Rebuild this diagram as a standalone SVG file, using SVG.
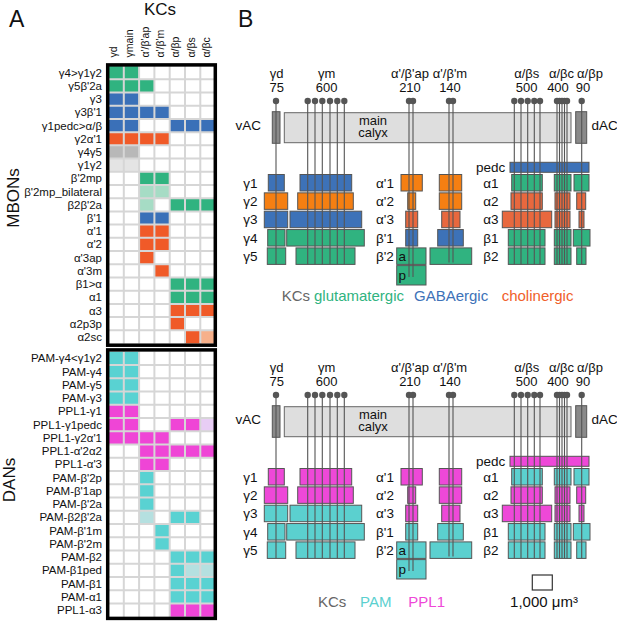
<svg xmlns="http://www.w3.org/2000/svg" xmlns:xlink="http://www.w3.org/1999/xlink" width="617" height="621" viewBox="0 0 617 621">
<style>
text{font-family:"Liberation Sans",Arial,sans-serif;fill:#111}
.lab{font-size:11.5px;text-anchor:end}
.hdr{font-size:10.5px}
.big{font-size:23px}
.side{font-size:17px;text-anchor:middle}
.bt{font-size:13px;text-anchor:middle}
.ll{font-size:13.5px}
.leg{font-size:15px}
.cG{fill:#30b380}.cB{fill:#3a70b8}.cO{fill:#f05a28}.cLO{fill:#f7b08a}.cGy{fill:#b8b8b8}.cLGy{fill:#e4e4e4}.cLG{fill:#a6dcc5}
.cC{fill:#59d2d2}.cLC{fill:#b5e0e0}.cM{fill:#ef45d6}.cLM{fill:#e8cdf5}
.grid{fill:none;stroke:#d6d6d6;stroke-width:2}
.frame{fill:none;stroke:#000;stroke-width:3.5}
.box{stroke:#555;stroke-width:1}
.bl{fill:#3d72b8}.or{fill:#f57f12}.ro{fill:#e8683e}.gr{fill:#30b380}.cy{fill:#5bd0cf}.mg{fill:#ee48d8}
.kcl{fill:none;stroke:#555;stroke-width:1.1}
.dot{fill:#555}
</style>
<rect width="617" height="621" fill="#fff"/>

<!-- Panel A -->
<g id="panelA">
<text class="big" x="9" y="26.7">A</text>
<text x="160" y="15" style="font-size:17px;text-anchor:middle">KCs</text>
<g id="col-headers" class="hdr">
<text transform="translate(117.2,57.5) rotate(-90)">γd</text>
<text transform="translate(133.4,57.5) rotate(-90)">γmain</text>
<text transform="translate(148.7,57.5) rotate(-90)">α'/β'ap</text>
<text transform="translate(164,57.5) rotate(-90)">α'/β'm</text>
<text transform="translate(179.3,57.5) rotate(-90)">α/βp</text>
<text transform="translate(194.6,57.5) rotate(-90)">α/βs</text>
<text transform="translate(209.9,57.5) rotate(-90)">α/βc</text>
</g>
<text class="side" transform="translate(18.5,198) rotate(-90)">MBONs</text>
<text class="side" transform="translate(15,480) rotate(-90)">DANs</text>

<g id="mbon-grid">
<rect x="108.5" y="66.1" width="107" height="277.4" fill="#fff"/>
<g id="mbon-cells">
<!-- row0 γ4>γ1γ2 -->
<rect class="cG" x="108.5" y="66.1" width="15.3" height="13.21"/><rect class="cG" x="123.8" y="66.1" width="15.3" height="13.21"/>
<!-- row1 -->
<rect class="cG" x="108.5" y="79.31" width="15.3" height="13.21"/><rect class="cG" x="123.8" y="79.31" width="15.3" height="13.21"/><rect class="cG" x="139.1" y="79.31" width="15.3" height="13.21"/>
<!-- row2 -->
<rect class="cB" x="108.5" y="92.52" width="15.3" height="13.21"/><rect class="cB" x="123.8" y="92.52" width="15.3" height="13.21"/>
<!-- row3 -->
<rect class="cB" x="108.5" y="105.73" width="15.3" height="13.21"/><rect class="cB" x="123.8" y="105.73" width="15.3" height="13.21"/><rect class="cB" x="139.1" y="105.73" width="15.3" height="13.21"/><rect class="cB" x="154.4" y="105.73" width="15.3" height="13.21"/>
<!-- row4 -->
<rect class="cB" x="108.5" y="118.94" width="15.3" height="13.21"/><rect class="cB" x="123.8" y="118.94" width="15.3" height="13.21"/><rect class="cB" x="169.7" y="118.94" width="15.3" height="13.21"/><rect class="cB" x="185" y="118.94" width="15.3" height="13.21"/><rect class="cB" x="200.3" y="118.94" width="15.3" height="13.21"/>
<!-- row5 -->
<rect class="cO" x="108.5" y="132.15" width="15.3" height="13.21"/><rect class="cO" x="123.8" y="132.15" width="15.3" height="13.21"/><rect class="cO" x="139.1" y="132.15" width="15.3" height="13.21"/><rect class="cO" x="154.4" y="132.15" width="15.3" height="13.21"/>
<!-- row6 -->
<rect class="cGy" x="108.5" y="145.36" width="15.3" height="13.21"/><rect class="cGy" x="123.8" y="145.36" width="15.3" height="13.21"/>
<!-- row7 -->
<rect class="cLGy" x="108.5" y="158.57" width="15.3" height="13.21"/><rect class="cLGy" x="123.8" y="158.57" width="15.3" height="13.21"/>
<!-- row8 -->
<rect class="cG" x="139.1" y="171.78" width="15.3" height="13.21"/><rect class="cG" x="154.4" y="171.78" width="15.3" height="13.21"/>
<!-- row9 -->
<rect class="cLG" x="139.1" y="184.99" width="15.3" height="13.21"/><rect class="cLG" x="154.4" y="184.99" width="15.3" height="13.21"/>
<!-- row10 -->
<rect class="cLG" x="139.1" y="198.2" width="15.3" height="13.21"/><rect class="cG" x="169.7" y="198.2" width="15.3" height="13.21"/><rect class="cG" x="185" y="198.2" width="15.3" height="13.21"/><rect class="cG" x="200.3" y="198.2" width="15.3" height="13.21"/>
<!-- row11 -->
<rect class="cB" x="139.1" y="211.41" width="15.3" height="13.21"/><rect class="cB" x="154.4" y="211.41" width="15.3" height="13.21"/>
<!-- row12 -->
<rect class="cO" x="139.1" y="224.62" width="15.3" height="13.21"/><rect class="cO" x="154.4" y="224.62" width="15.3" height="13.21"/>
<!-- row13 -->
<rect class="cO" x="139.1" y="237.83" width="15.3" height="13.21"/><rect class="cO" x="154.4" y="237.83" width="15.3" height="13.21"/>
<!-- row14 -->
<rect class="cO" x="139.1" y="251.04" width="15.3" height="13.21"/>
<!-- row15 -->
<rect class="cO" x="154.4" y="264.25" width="15.3" height="13.21"/>
<!-- row16 -->
<rect class="cG" x="169.7" y="277.46" width="15.3" height="13.21"/><rect class="cG" x="185" y="277.46" width="15.3" height="13.21"/><rect class="cG" x="200.3" y="277.46" width="15.3" height="13.21"/>
<!-- row17 -->
<rect class="cG" x="169.7" y="290.67" width="15.3" height="13.21"/><rect class="cG" x="185" y="290.67" width="15.3" height="13.21"/><rect class="cG" x="200.3" y="290.67" width="15.3" height="13.21"/>
<!-- row18 -->
<rect class="cO" x="169.7" y="303.88" width="15.3" height="13.21"/><rect class="cO" x="185" y="303.88" width="15.3" height="13.21"/><rect class="cO" x="200.3" y="303.88" width="15.3" height="13.21"/>
<!-- row19 -->
<rect class="cO" x="169.7" y="317.09" width="15.3" height="13.21"/>
<!-- row20 -->
<rect class="cO" x="185" y="330.3" width="15.3" height="13.21"/><rect class="cLO" x="200.3" y="330.3" width="15.3" height="13.21"/>
</g>
<path class="grid" d="M123.8 66V343.5M139.1 66V343.5M154.4 66V343.5M169.7 66V343.5M185 66V343.5M200.3 66V343.5M108 79.31H216M108 92.52H216M108 105.73H216M108 118.94H216M108 132.15H216M108 145.36H216M108 158.57H216M108 171.78H216M108 184.99H216M108 198.2H216M108 211.41H216M108 224.62H216M108 237.83H216M108 251.04H216M108 264.25H216M108 277.46H216M108 290.67H216M108 303.88H216M108 317.09H216M108 330.3H216"/>
<rect class="frame" x="107.7" y="64.9" width="107.6" height="280.3"/>
</g>

<g id="mbon-labels" class="lab">
<text x="102" y="76.7">γ4&gt;γ1γ2</text>
<text x="102" y="89.9">γ5β'2a</text>
<text x="102" y="103.1">γ3</text>
<text x="102" y="116.3">γ3β'1</text>
<text x="102" y="129.5">γ1pedc&gt;α/β</text>
<text x="102" y="142.8">γ2α'1</text>
<text x="102" y="156">γ4γ5</text>
<text x="102" y="169.2">γ1γ2</text>
<text x="102" y="182.4">β'2mp</text>
<text x="102" y="195.6">β'2mp_bilateral</text>
<text x="102" y="208.8">β2β'2a</text>
<text x="102" y="222">β'1</text>
<text x="102" y="235.2">α'1</text>
<text x="102" y="248.4">α'2</text>
<text x="102" y="261.6">α'3ap</text>
<text x="102" y="274.9">α'3m</text>
<text x="102" y="288.1">β1&gt;α</text>
<text x="102" y="301.3">α1</text>
<text x="102" y="314.5">α3</text>
<text x="102" y="327.7">α2p3p</text>
<text x="102" y="340.9">α2sc</text>
</g>

<g id="dan-grid">
<rect x="108.5" y="351.7" width="107" height="265" fill="#fff"/>
<g id="dan-cells">
<rect class="cC" x="108.5" y="351.7" width="15.3" height="13.25"/><rect class="cC" x="123.8" y="351.7" width="15.3" height="13.25"/>
<rect class="cC" x="108.5" y="364.95" width="15.3" height="13.25"/><rect class="cC" x="123.8" y="364.95" width="15.3" height="13.25"/>
<rect class="cC" x="108.5" y="378.2" width="15.3" height="13.25"/><rect class="cC" x="123.8" y="378.2" width="15.3" height="13.25"/>
<rect class="cC" x="108.5" y="391.45" width="15.3" height="13.25"/><rect class="cC" x="123.8" y="391.45" width="15.3" height="13.25"/>
<rect class="cM" x="108.5" y="404.7" width="15.3" height="13.25"/><rect class="cM" x="123.8" y="404.7" width="15.3" height="13.25"/>
<rect class="cM" x="108.5" y="417.95" width="15.3" height="13.25"/><rect class="cM" x="123.8" y="417.95" width="15.3" height="13.25"/><rect class="cM" x="169.7" y="417.95" width="15.3" height="13.25"/><rect class="cM" x="185" y="417.95" width="15.3" height="13.25"/><rect class="cLM" x="200.3" y="417.95" width="15.3" height="13.25"/>
<rect class="cM" x="108.5" y="431.2" width="15.3" height="13.25"/><rect class="cM" x="123.8" y="431.2" width="15.3" height="13.25"/><rect class="cM" x="139.1" y="431.2" width="15.3" height="13.25"/><rect class="cM" x="154.4" y="431.2" width="15.3" height="13.25"/>
<rect class="cM" x="139.1" y="444.45" width="15.3" height="13.25"/><rect class="cM" x="154.4" y="444.45" width="15.3" height="13.25"/><rect class="cM" x="169.7" y="444.45" width="15.3" height="13.25"/><rect class="cM" x="185" y="444.45" width="15.3" height="13.25"/><rect class="cM" x="200.3" y="444.45" width="15.3" height="13.25"/>
<rect class="cM" x="139.1" y="457.7" width="15.3" height="13.25"/><rect class="cM" x="154.4" y="457.7" width="15.3" height="13.25"/>
<rect class="cC" x="139.1" y="470.95" width="15.3" height="13.25"/>
<rect class="cC" x="139.1" y="484.2" width="15.3" height="13.25"/>
<rect class="cC" x="139.1" y="497.45" width="15.3" height="13.25"/>
<rect class="cLC" x="139.1" y="510.7" width="15.3" height="13.25"/><rect class="cC" x="169.7" y="510.7" width="15.3" height="13.25"/><rect class="cC" x="185" y="510.7" width="15.3" height="13.25"/>
<rect class="cC" x="154.4" y="523.95" width="15.3" height="13.25"/>
<rect class="cC" x="154.4" y="537.2" width="15.3" height="13.25"/>
<rect class="cC" x="169.7" y="550.45" width="15.3" height="13.25"/><rect class="cC" x="185" y="550.45" width="15.3" height="13.25"/><rect class="cC" x="200.3" y="550.45" width="15.3" height="13.25"/>
<rect class="cC" x="169.7" y="563.7" width="15.3" height="13.25"/><rect class="cLC" x="185" y="563.7" width="15.3" height="13.25"/><rect class="cLC" x="200.3" y="563.7" width="15.3" height="13.25"/>
<rect class="cC" x="169.7" y="576.95" width="15.3" height="13.25"/><rect class="cC" x="185" y="576.95" width="15.3" height="13.25"/><rect class="cC" x="200.3" y="576.95" width="15.3" height="13.25"/>
<rect class="cC" x="169.7" y="590.2" width="15.3" height="13.25"/><rect class="cC" x="185" y="590.2" width="15.3" height="13.25"/><rect class="cC" x="200.3" y="590.2" width="15.3" height="13.25"/>
<rect class="cM" x="169.7" y="603.45" width="15.3" height="13.25"/><rect class="cM" x="185" y="603.45" width="15.3" height="13.25"/><rect class="cM" x="200.3" y="603.45" width="15.3" height="13.25"/>
</g>
<path class="grid" d="M123.8 351.5V617M139.1 351.5V617M154.4 351.5V617M169.7 351.5V617M185 351.5V617M200.3 351.5V617M108 364.95H216M108 378.2H216M108 391.45H216M108 404.7H216M108 417.95H216M108 431.2H216M108 444.45H216M108 457.7H216M108 470.95H216M108 484.2H216M108 497.45H216M108 510.7H216M108 523.95H216M108 537.2H216M108 550.45H216M108 563.7H216M108 576.95H216M108 590.2H216M108 603.45H216"/>
<rect class="frame" x="107.7" y="349.9" width="107.6" height="268.5"/>
</g>

<g id="dan-labels" class="lab">
<text x="102" y="362.3">PAM-γ4&lt;γ1γ2</text>
<text x="102" y="375.55">PAM-γ4</text>
<text x="102" y="388.8">PAM-γ5</text>
<text x="102" y="402.05">PAM-γ3</text>
<text x="102" y="415.3">PPL1-γ1</text>
<text x="102" y="428.55">PPL1-γ1pedc</text>
<text x="102" y="441.8">PPL1-γ2α'1</text>
<text x="102" y="455.05">PPL1-α'2α2</text>
<text x="102" y="468.3">PPL1-α'3</text>
<text x="102" y="481.55">PAM-β'2p</text>
<text x="102" y="494.8">PAM-β'1ap</text>
<text x="102" y="508.05">PAM-β'2a</text>
<text x="102" y="521.3">PAM-β2β'2a</text>
<text x="102" y="534.55">PAM-β'1m</text>
<text x="102" y="547.8">PAM-β'2m</text>
<text x="102" y="561.05">PAM-β2</text>
<text x="102" y="574.3">PAM-β1ped</text>
<text x="102" y="587.55">PAM-β1</text>
<text x="102" y="600.8">PAM-α1</text>
<text x="102" y="614.05">PPL1-α3</text>
</g>
</g>

<!-- Panel B -->
<text class="big" x="238" y="26.5">B</text>

<defs>
<g id="skeleton">
<g id="kc-labels" class="bt">
<text x="276.7" y="77.5">γd</text><text x="276.7" y="91.7">75</text>
<text x="326.7" y="77.5">γm</text><text x="326.7" y="91.7">600</text>
<text x="410" y="77.5">α'/β'ap</text><text x="410" y="91.7">210</text>
<text x="450" y="77.5">α'/β'm</text><text x="450" y="91.7">140</text>
<text x="526.7" y="77.5">α/βs</text><text x="526.7" y="91.7">500</text>
<text x="561.5" y="77.5">α/βc</text><text x="558" y="91.7">400</text>
<text x="590" y="77.5">α/βp</text><text x="583" y="91.7">90</text>
</g>
<g id="calyx">
<rect x="284.3" y="112.7" width="286.7" height="30" fill="#dedede" stroke="#666" stroke-width="1"/>
<text class="bt" x="373" y="125">main</text>
<text class="bt" x="373" y="137">calyx</text>
</g>
<g id="vAC"><rect x="272.3" y="111.7" width="7.7" height="31.6" fill="#8a8a8a" stroke="#555" stroke-width="1"/><text class="ll" x="261" y="130" style="text-anchor:end">vAC</text></g>
<g id="dAC"><rect x="575.7" y="111.7" width="11" height="31.6" fill="#8a8a8a" stroke="#555" stroke-width="1"/><text class="ll" x="591.5" y="130">dAC</text></g>
<g id="lobe-labels" class="ll">
<text x="243.3" y="187.5">γ1</text><text x="243.3" y="205.8">γ2</text><text x="243.3" y="224.2">γ3</text><text x="243.3" y="242.5">γ4</text><text x="243.3" y="260.9">γ5</text>
<text x="376" y="187.5">α'1</text><text x="376" y="205.8">α'2</text><text x="376" y="224.2">α'3</text><text x="376" y="242.5">β'1</text><text x="376" y="260.9">β'2</text>
<text x="476" y="171.5">pedc</text>
<text x="483.3" y="187.5">α1</text><text x="483.3" y="205.8">α2</text><text x="483.3" y="224.2">α3</text><text x="483.3" y="242.5">β1</text><text x="483.3" y="260.9">β2</text>
</g>
</g>
<g id="kc-lines">
<path class="kcl" d="M276 101V264.3M307.7 101V264.3M315 101V264.3M322.3 101V264.3M330 101V264.3M337.3 101V264.3M344.3 101V264.3M409 101V277M413 101V277M449 101V262.5M453 101V262.5M514.3 101V264.3M521 101V264.3M527.7 101V264.3M534.3 101V264.3M540 101V264.3M557 101V264.3M559.5 101V264.3M562 101V264.3M564.5 101V264.3M567 101V264.3M581.7 101V264.3"/>
<g class="dot">
<circle cx="276" cy="101" r="3.2"/>
<circle cx="307.7" cy="101" r="3.2"/><circle cx="315" cy="101" r="3.2"/><circle cx="322.3" cy="101" r="3.2"/><circle cx="330" cy="101" r="3.2"/><circle cx="337.3" cy="101" r="3.2"/><circle cx="344.3" cy="101" r="3.2"/>
<circle cx="409" cy="101" r="3.2"/><circle cx="413" cy="101" r="3.2"/>
<circle cx="449" cy="101" r="3.2"/><circle cx="453" cy="101" r="3.2"/>
<circle cx="514.3" cy="101" r="3.2"/><circle cx="521" cy="101" r="3.2"/><circle cx="527.7" cy="101" r="3.2"/><circle cx="534.3" cy="101" r="3.2"/><circle cx="540" cy="101" r="3.2"/>
<circle cx="557" cy="101" r="3.2"/><circle cx="559.5" cy="101" r="3.2"/><circle cx="562" cy="101" r="3.2"/><circle cx="564.5" cy="101" r="3.2"/><circle cx="567" cy="101" r="3.2"/>
<circle cx="581.7" cy="101" r="3.2"/>
</g>
</g>
</defs>

<!-- Top: MBON neurotransmitters -->
<g id="panelB-top">
<use href="#skeleton"/>
<g id="lobes-mbon" class="box">
<g id="m-g1"><rect class="bl" x="268.3" y="174.5" width="16" height="16.5"/><rect class="bl" x="300" y="174.5" width="51.7" height="16.5"/></g>
<g id="m-g2"><rect class="or" x="264.3" y="192.85" width="23.4" height="16.5"/><rect class="or" x="297.7" y="192.85" width="55.6" height="16.5"/></g>
<g id="m-g3"><rect class="bl" x="264.3" y="211.2" width="23.4" height="16.5"/><rect class="bl" x="290" y="211.2" width="71.7" height="16.5"/></g>
<g id="m-g4"><rect class="gr" x="267.7" y="229.55" width="17.3" height="16.5"/><rect class="gr" x="286.7" y="229.55" width="77.6" height="16.5"/></g>
<g id="m-g5"><rect class="gr" x="267.3" y="247.9" width="18.4" height="16.5"/><rect class="gr" x="296" y="247.9" width="59" height="16.5"/></g>
<g id="m-ap1"><rect class="or" x="401" y="174.5" width="21.3" height="16.5"/><rect class="or" x="439.3" y="174.5" width="22.4" height="16.5"/></g>
<g id="m-ap2"><rect class="or" x="407.7" y="192.85" width="8" height="16.5"/><rect class="or" x="439.3" y="192.85" width="22.4" height="16.5"/></g>
<g id="m-ap3"><rect class="ro" x="405.7" y="211.2" width="12" height="16.5"/><rect class="ro" x="441.7" y="211.2" width="18.3" height="16.5"/></g>
<g id="m-bp1"><rect class="bl" x="405.7" y="229.55" width="12" height="16.5"/><rect class="bl" x="437.7" y="229.55" width="25.6" height="16.5"/></g>
<g id="m-bp2"><rect class="gr" x="396.7" y="247.9" width="29.3" height="16.5"/><rect class="gr" x="430" y="247.9" width="41.7" height="16.5"/><rect class="gr" x="396.7" y="265.6" width="29.3" height="19.4"/></g>
<g id="m-pedc"><rect class="bl" x="510" y="162.3" width="79" height="10"/></g>
<g id="m-a1"><rect class="gr" x="511.7" y="174.5" width="30.6" height="16.5"/><rect class="gr" x="554.3" y="174.5" width="16.7" height="16.5"/><rect class="gr" x="574" y="174.5" width="15" height="16.5"/></g>
<g id="m-a2"><rect class="ro" x="511" y="192.85" width="31.3" height="16.5"/><rect class="ro" x="555" y="192.85" width="15" height="16.5"/><rect class="ro" x="576.7" y="192.85" width="9" height="16.5"/></g>
<g id="m-a3"><rect class="ro" x="502.3" y="211.2" width="49.4" height="16.5"/><rect class="ro" x="555" y="211.2" width="15" height="16.5"/><rect class="ro" x="579" y="211.2" width="5" height="16.5"/></g>
<g id="m-b1"><rect class="gr" x="508.3" y="229.55" width="36.7" height="16.5"/><rect class="gr" x="554.3" y="229.55" width="16.7" height="16.5"/><rect class="gr" x="573.3" y="229.55" width="16.7" height="16.5"/></g>
<g id="m-b2"><rect class="gr" x="508.3" y="247.9" width="36.7" height="16.5"/><rect class="gr" x="554.3" y="247.9" width="16.7" height="16.5"/><rect class="gr" x="576.7" y="247.9" width="9.3" height="16.5"/></g>
</g>
<text class="ll" x="398.5" y="260.9">a</text><text class="ll" x="398.5" y="280">p</text>
<use href="#kc-lines"/>
<g id="legend-top" class="leg">
<text x="281.7" y="301" style="fill:#666">KCs</text>
<text x="314" y="301" style="fill:#30b380">glutamatergic</text>
<text x="414" y="301" style="fill:#3d72b8">GABAergic</text>
<text x="501.7" y="301" style="fill:#f0602a">cholinergic</text>
</g>
</g>

<!-- Bottom: DAN clusters -->
<g id="panelB-bottom">
<use href="#skeleton" y="294"/>
<g id="lobes-dan" class="box" transform="translate(0,294)">
<g id="d-g1"><rect class="mg" x="268.3" y="174.5" width="16" height="16.5"/><rect class="mg" x="300" y="174.5" width="51.7" height="16.5"/></g>
<g id="d-g2"><rect class="mg" x="264.3" y="192.85" width="23.4" height="16.5"/><rect class="mg" x="297.7" y="192.85" width="55.6" height="16.5"/></g>
<g id="d-g3"><rect class="cy" x="264.3" y="211.2" width="23.4" height="16.5"/><rect class="cy" x="290" y="211.2" width="71.7" height="16.5"/></g>
<g id="d-g4"><rect class="cy" x="267.7" y="229.55" width="17.3" height="16.5"/><rect class="cy" x="286.7" y="229.55" width="77.6" height="16.5"/></g>
<g id="d-g5"><rect class="cy" x="267.3" y="247.9" width="18.4" height="16.5"/><rect class="cy" x="296" y="247.9" width="59" height="16.5"/></g>
<g id="d-ap1"><rect class="mg" x="401" y="174.5" width="21.3" height="16.5"/><rect class="mg" x="439.3" y="174.5" width="22.4" height="16.5"/></g>
<g id="d-ap2"><rect class="mg" x="407.7" y="192.85" width="8" height="16.5"/><rect class="mg" x="439.3" y="192.85" width="22.4" height="16.5"/></g>
<g id="d-ap3"><rect class="mg" x="405.7" y="211.2" width="12" height="16.5"/><rect class="mg" x="441.7" y="211.2" width="18.3" height="16.5"/></g>
<g id="d-bp1"><rect class="cy" x="405.7" y="229.55" width="12" height="16.5"/><rect class="cy" x="437.7" y="229.55" width="25.6" height="16.5"/></g>
<g id="d-bp2"><rect class="cy" x="396.7" y="247.9" width="29.3" height="16.5"/><rect class="cy" x="430" y="247.9" width="41.7" height="16.5"/><rect class="cy" x="396.7" y="265.6" width="29.3" height="19.4"/></g>
<g id="d-pedc"><rect class="mg" x="510" y="162.3" width="79" height="10"/></g>
<g id="d-a1"><rect class="cy" x="511.7" y="174.5" width="30.6" height="16.5"/><rect class="cy" x="554.3" y="174.5" width="16.7" height="16.5"/><rect class="cy" x="574" y="174.5" width="15" height="16.5"/></g>
<g id="d-a2"><rect class="mg" x="511" y="192.85" width="31.3" height="16.5"/><rect class="mg" x="555" y="192.85" width="15" height="16.5"/><rect class="mg" x="576.7" y="192.85" width="9" height="16.5"/></g>
<g id="d-a3"><rect class="mg" x="502.3" y="211.2" width="49.4" height="16.5"/><rect class="mg" x="555" y="211.2" width="15" height="16.5"/><rect class="mg" x="579" y="211.2" width="5" height="16.5"/></g>
<g id="d-b1"><rect class="cy" x="508.3" y="229.55" width="36.7" height="16.5"/><rect class="cy" x="554.3" y="229.55" width="16.7" height="16.5"/><rect class="cy" x="573.3" y="229.55" width="16.7" height="16.5"/></g>
<g id="d-b2"><rect class="cy" x="508.3" y="247.9" width="36.7" height="16.5"/><rect class="cy" x="554.3" y="247.9" width="16.7" height="16.5"/><rect class="cy" x="576.7" y="247.9" width="9.3" height="16.5"/></g>
</g>
<text class="ll" x="398.5" y="554.9">a</text><text class="ll" x="398.5" y="574">p</text>
<use href="#kc-lines" y="294"/>
<g id="legend-bottom" class="leg">
<text x="318" y="607" style="fill:#666">KCs</text>
<text x="360" y="607" style="fill:#5bd0cf">PAM</text>
<text x="408.3" y="607" style="fill:#ee48d8">PPL1</text>
<rect x="532.3" y="575" width="20" height="15" fill="#fff" stroke="#333" stroke-width="1.2"/>
<text x="544" y="607" style="text-anchor:middle">1,000 μm³</text>
</g>
</g>
</svg>
